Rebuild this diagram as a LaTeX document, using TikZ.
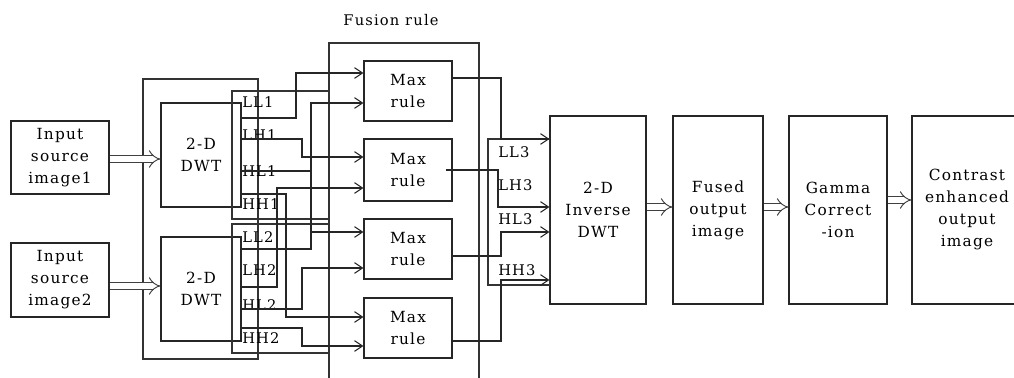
\documentclass[tikz,border=0pt]{standalone}
\usepackage{fontspec}
\setmainfont{DejaVu Serif}[LetterSpace=8]
\usetikzlibrary{arrows.meta}
\tikzset{
  block/.style={draw=black!85, line width=0.8pt, align=center, inner sep=1pt,
    font=\fontsize{11.5}{16.5}\selectfont},
  frame/.style={draw=black!80, line width=0.8pt},
  band/.style={font=\fontsize{11}{13}\selectfont, anchor=west, inner sep=0pt},
  wire/.style={draw=black!85, line width=0.8pt},
  feed/.style={wire, -{Straight Barb[length=6pt, width=8pt]}},
  fat/.style={draw=black!75, double, double distance=4pt, line width=0.7pt, -{Implies}}
}

\begin{document}
\begin{tikzpicture}[x=0.75pt, y=-0.75pt]
\useasboundingbox (0,0) rectangle (1014,378);
\clip (0,0) rectangle (1014,378);

\node[block, minimum width=73.5pt, minimum height=54.75pt] (inA) at (60,157.5) {Input\\source\\image1};
\node[block, minimum width=73.5pt, minimum height=55.5pt] (inB) at (60,280) {Input\\source\\image2};
\node[block, minimum width=60pt, minimum height=78pt] (dwtA) at (201,155) {2-D\\DWT};
\node[block, minimum width=60pt, minimum height=78pt] (dwtB) at (201,289) {2-D\\DWT};

\draw[frame] (143,79) rectangle (258,359);
\draw[frame] (232,91) rectangle (329,219);
\draw[frame] (232,224) rectangle (329,353);
\draw[frame] (329,390) |- (479,43) -- (479,390);
\node[font=\fontsize{11}{13}\selectfont] (fusion) at (391,20) {Fusion rule};

\node[block, minimum width=66pt, minimum height=45pt] (maxA) at (408,91) {Max\\rule};
\node[block, minimum width=66pt, minimum height=46.5pt] (maxB) at (408,170) {Max\\rule};
\node[block, minimum width=66pt, minimum height=45pt] (maxC) at (408,249) {Max\\rule};
\node[block, minimum width=66pt, minimum height=45pt] (maxD) at (408,328) {Max\\rule};

\node[block, minimum width=72pt, minimum height=141pt] (idwt) at (598,210) {2-D\\Inverse\\DWT};
\node[block, minimum width=67.5pt, minimum height=141pt] (fused) at (718,210) {Fused\\output\\image};
\node[block, minimum width=73.5pt, minimum height=141pt] (gamma) at (838,210) {Gamma\\Correct\\-ion};
\node[block, minimum width=82.5pt, minimum height=141pt] (contrast) at (967,210) {Contrast\\enhanced\\output\\image};
\draw[frame] (488,139) rectangle (idwt.west |- 0,285);

\node[band] (ll1) at (242,102) {LL1};
\node[band] (lh1) at (242,135) {LH1};
\node[band] (hl1) at (242,171) {HL1};
\node[band] (hh1) at (242,204) {HH1};
\node[band] (ll2) at (242,237) {LL2};
\node[band] (lh2) at (242,270) {LH2};
\node[band] (hl2) at (242,305) {HL2};
\node[band] (hh2) at (242,338) {HH2};
\node[band] (ll3) at (498,152) {LL3};
\node[band] (lh3) at (498,185) {LH3};
\node[band] (hl3) at (498,219) {HL3};
\node[band] (hh3) at (498,270) {HH3};

\draw[feed] (dwtA.east |- 0,118) -- (296,118) -- (296,73) -- (maxA.west |- 0,73);
\draw[feed] (dwtB.east |- 0,249) -- (311,249) -- (311,103) -- (maxA.west |- 0,103);
\draw[wire] (dwtA.east |- 0,171) -- (311,171);
\draw[feed] (311,232) -- (maxC.west |- 0,232);
\draw[feed] (dwtA.east |- 0,139) -- (302,139) -- (302,157) -- (maxB.west |- 0,157);
\draw[feed] (dwtB.east |- 0,287) -- (277,287) -- (277,188) -- (maxB.west |- 0,188);
\draw[feed] (dwtA.east |- 0,194) -- (286,194) -- (286,317) -- (maxD.west |- 0,317);
\draw[feed] (dwtB.east |- 0,309) -- (302,309) -- (302,268) -- (maxC.west |- 0,268);
\draw[feed] (dwtB.east |- 0,328) -- (302,328) -- (302,346) -- (maxD.west |- 0,346);

\draw[feed] (maxA.east |- 0,78) -- (501,78) -- (501,139) -- (idwt.west |- 0,139);
\draw[feed] ([xshift=-5.25pt]maxB.east) -- (498,170) -- (498,207) -- (idwt.west |- 0,207);
\draw[feed] (maxC.east |- 0,256) -- (501,256) -- (501,232) -- (idwt.west |- 0,232);
\draw[feed] (maxD.east |- 0,341) -- (501,341) -- (501,280) -- (idwt.west |- 0,280);

\draw[fat] (inA.east |- 0,159) -- (dwtA.west |- 0,159);
\draw[fat] (inB.east |- 0,286) -- (dwtB.west |- 0,286);
\draw[fat] (idwt.east |- 0,207) -- (fused.west |- 0,207);
\draw[fat] (fused.east |- 0,207) -- (gamma.west |- 0,207);
\draw[fat] (gamma.east |- 0,200) -- (contrast.west |- 0,200);
\end{tikzpicture}
\end{document}
